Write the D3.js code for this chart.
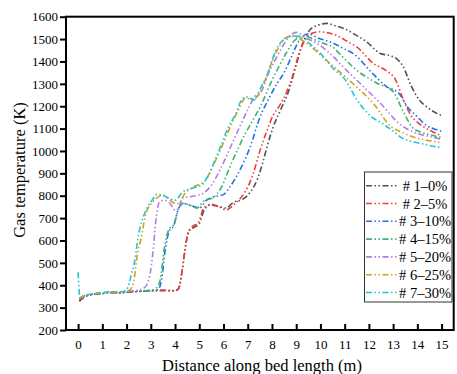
<!DOCTYPE html>
<html><head><meta charset="utf-8">
<script src="https://cdn.jsdelivr.net/npm/d3@7/dist/d3.min.js"></script>
<style>body{margin:0;background:#fff}svg{display:block}
text{font-family:"Liberation Serif","Times New Roman",Times,"DejaVu Serif",serif !important;}</style>
</head><body>
<svg id="chart" width="457" height="374"></svg>
<script>
// ---- data ----
const xTickValues = d3.range(0, 16, 1);
const yTickValues = d3.range(200, 1601, 100);
const seriesNames = ["# 1\u20130%", "# 2\u20135%", "# 3\u201310%", "# 4\u201315%", "# 5\u201320%", "# 6\u201325%", "# 7\u201330%"];
const seriesColors = ["#505050", "#f03c3c", "#2272e6", "#3cb371", "#b07de6", "#d4a017", "#1ec8d2"];

const s1 = [[0.05,328],[0.3,350],[0.7,360],[1.0,362],[1.3,367],[1.7,366],[2.0,368],[2.5,372],[3.0,374],[3.5,376],[4.0,376],[4.15,385],[4.3,470],[4.45,590],[4.6,645],[4.8,660],[5.0,675],[5.2,735],[5.45,758],[5.8,752],[6.1,745],[6.4,770],[6.8,785],[7.1,815],[7.4,875],[7.6,940],[7.8,1020],[8.05,1107],[8.35,1182],[8.7,1271],[9.0,1385],[9.3,1490],[9.6,1545],[9.9,1562],[10.25,1570],[10.6,1560],[11.0,1546],[11.4,1522],[11.9,1488],[12.45,1437],[12.9,1425],[13.15,1412],[13.4,1380],[13.75,1290],[14.05,1232],[14.4,1196],[14.8,1168],[15.0,1158]];
const s2 = [[0.05,335],[0.3,352],[0.7,360],[1.0,364],[1.3,368],[1.7,366],[2.0,370],[2.5,373],[3.0,378],[3.5,378],[4.0,375],[4.15,385],[4.3,470],[4.42,560],[4.55,640],[4.75,665],[4.95,678],[5.2,748],[5.5,762],[5.8,752],[6.1,737],[6.5,768],[6.85,810],[7.2,890],[7.5,1000],[7.8,1093],[8.05,1160],[8.3,1200],[8.6,1262],[8.85,1335],[9.1,1430],[9.35,1494],[9.6,1524],[9.95,1533],[10.3,1528],[10.75,1512],[11.1,1490],[11.5,1465],[12.2,1390],[12.7,1360],[13.1,1318],[13.4,1235],[13.7,1165],[14.1,1120],[14.5,1093],[14.85,1075],[15.0,1068]];
const s3 = [[0.05,340],[0.3,355],[0.7,362],[1.0,365],[1.3,370],[1.7,367],[2.0,371],[2.5,373],[3.0,375],[3.3,380],[3.45,430],[3.6,560],[3.75,640],[3.95,668],[4.15,745],[4.35,765],[4.7,755],[5.0,745],[5.3,780],[5.6,795],[6.0,805],[6.2,830],[6.6,899],[7.1,1018],[7.5,1150],[7.9,1240],[8.2,1300],[8.5,1350],[8.8,1420],[9.1,1490],[9.5,1524],[9.9,1505],[10.5,1483],[11.0,1455],[11.4,1432],[12.05,1358],[12.7,1290],[13.25,1256],[13.6,1195],[13.95,1158],[14.4,1112],[14.8,1095],[15.0,1088]];
const s4 = [[0.05,340],[0.3,354],[0.7,361],[1.0,364],[1.3,369],[1.7,368],[2.0,371],[2.5,374],[3.0,376],[3.25,390],[3.4,430],[3.55,560],[3.75,650],[3.95,672],[4.15,742],[4.3,766],[4.6,758],[4.9,745],[5.2,778],[5.55,790],[5.9,835],[6.25,925],[6.6,1010],[6.9,1078],[7.2,1135],[7.55,1205],[8.0,1316],[8.3,1380],[8.6,1440],[8.9,1490],[9.3,1515],[9.7,1500],[10.1,1482],[10.5,1465],[10.9,1422],[11.45,1365],[12.3,1305],[13.0,1265],[13.4,1180],[13.8,1105],[14.2,1082],[14.6,1070],[15.0,1060]];
const s5 = [[0.05,340],[0.3,355],[0.7,362],[1.0,366],[1.3,371],[1.7,368],[2.0,372],[2.4,376],[2.75,390],[2.95,440],[3.1,560],[3.2,680],[3.35,770],[3.55,780],[3.8,765],[4.0,735],[4.15,745],[4.3,790],[4.75,798],[5.15,810],[5.55,855],[5.9,925],[6.3,1020],[6.7,1115],[7.05,1195],[7.3,1245],[7.55,1265],[7.85,1345],[8.1,1400],[8.4,1460],[8.7,1510],[9.0,1530],[9.4,1505],[9.9,1478],[10.5,1425],[11.1,1358],[11.8,1285],[12.5,1210],[13.3,1118],[13.95,1080],[14.6,1062],[15.0,1052]];
const s6 = [[0.05,340],[0.3,355],[0.7,362],[1.0,366],[1.3,371],[1.7,369],[2.0,373],[2.15,380],[2.3,420],[2.45,540],[2.6,610],[2.8,720],[3.15,780],[3.5,802],[3.75,785],[3.95,768],[4.15,765],[4.4,810],[4.75,838],[5.25,868],[5.55,930],[5.85,1000],[6.25,1100],[6.6,1180],[6.9,1235],[7.2,1232],[7.5,1258],[7.8,1340],[8.05,1412],[8.3,1468],[8.6,1508],[8.85,1512],[9.2,1498],[9.5,1475],[10.25,1405],[10.8,1353],[11.5,1285],[12.2,1210],[12.9,1110],[13.4,1082],[13.9,1060],[14.5,1046],[15.0,1036]];
const s7 = [[0.0,458],[0.08,345],[0.3,355],[0.7,362],[1.0,366],[1.3,371],[1.7,369],[1.95,375],[2.06,392],[2.2,450],[2.33,505],[2.47,610],[2.8,735],[3.05,780],[3.25,806],[3.5,802],[3.75,788],[4.0,780],[4.3,815],[4.75,835],[5.1,848],[5.38,892],[5.65,960],[5.9,1025],[6.2,1107],[6.5,1165],[6.8,1236],[7.0,1241],[7.25,1228],[7.55,1285],[7.85,1353],[8.05,1420],[8.27,1472],[8.55,1502],[8.9,1515],[9.3,1505],[9.6,1475],[9.9,1448],[10.5,1372],[11.05,1314],[11.5,1230],[12.05,1158],[12.6,1120],[12.95,1093],[13.4,1056],[13.85,1040],[14.3,1030],[14.8,1018],[15.0,1015]];
const seriesData = [s1, s2, s3, s4, s5, s6, s7];

// ---- layout ----
const svg = d3.select("#chart");
const L = 66, R = 453.7, T = 16.7, B = 330;
const x = d3.scaleLinear().domain([-0.5, 15.5]).range([L, R]);
const y = d3.scaleLinear().domain([200, 1600]).range([B, T]);
const font = "Liberation Serif, Times New Roman, serif";
const dash = "6,2.5,1.5,2.5,1.5,2.5";

svg.append("defs").append("clipPath").attr("id","clip")
  .append("rect").attr("x", L).attr("y", T).attr("width", R-L).attr("height", B-T);

const line = d3.line().x(d => x(d[0])).y(d => y(d[1])).curve(d3.curveMonotoneX);
const g = svg.append("g").attr("clip-path","url(#clip)");
seriesData.forEach((s, i) => {
  g.append("path").attr("d", line(s)).attr("fill","none")
    .attr("stroke", seriesColors[i]).attr("stroke-width", 1.6)
    .attr("stroke-dasharray", dash);
});

// axes
const yAxis = svg.append("g").attr("transform", `translate(${L},0)`)
  .call(d3.axisLeft(y).tickValues(yTickValues).tickSize(6).tickPadding(2).tickFormat(d3.format("d")));
const xAxis = svg.append("g").attr("transform", `translate(0,${B})`)
  .call(d3.axisBottom(x).tickValues(xTickValues).tickSize(-6).tickPadding(10));
[xAxis, yAxis].forEach(a => {
  a.attr("font-family", font).attr("font-size", 13);
  a.select(".domain").remove();
  a.selectAll(".tick line").attr("stroke","#000").attr("stroke-width",2);
  a.selectAll(".tick text").attr("fill","#000");
});

// frame
svg.append("rect").attr("x", L).attr("y", T).attr("width", R-L).attr("height", B-T)
  .attr("fill","none").attr("stroke","#000").attr("stroke-width",2);

// titles
svg.append("text").attr("x", 262).attr("y", 371).attr("text-anchor","middle")
  .attr("font-family", font).attr("font-size", 16.5).text("Distance along bed length (m)");
svg.append("text").attr("transform","translate(25,170) rotate(-90)").attr("text-anchor","middle")
  .attr("font-family", font).attr("font-size", 16.5).text("Gas temperature (K)");

// legend
const lg = svg.append("g");
lg.append("rect").attr("x", 364.5).attr("y", 172).attr("width", 87.5).attr("height", 130)
  .attr("fill","#fff").attr("stroke","#333").attr("stroke-width",1);
seriesNames.forEach((n, i) => {
  const yy = 185.7 + i*17.8;
  lg.append("line").attr("x1", 366).attr("x2", 397).attr("y1", yy).attr("y2", yy)
    .attr("stroke", seriesColors[i]).attr("stroke-width",1.6).attr("stroke-dasharray", dash);
  lg.append("text").attr("x", 425).attr("y", yy).attr("dy","0.35em").attr("text-anchor","middle")
    .attr("font-family", font).attr("font-size", 14.5).text(n);
});
</script>
</body></html>
